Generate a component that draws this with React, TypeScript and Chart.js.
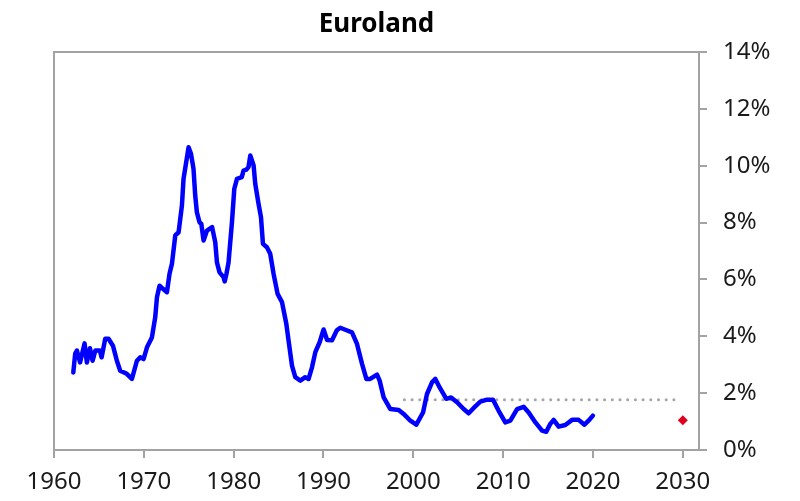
import React, { useEffect, useRef } from "react";
import { Chart, registerables } from "chart.js";

Chart.register(...registerables);

const TITLE = "Euroland";

const years = [
  1962.15, 1962.36, 1962.55, 1962.9, 1963.4, 1963.66, 1964.0, 1964.3, 1964.6, 1965.1,
  1965.3, 1965.7, 1966.07, 1966.56, 1967.0, 1967.37, 1968.1, 1968.67, 1969.23, 1969.6,
  1969.97, 1970.35, 1970.9, 1971.27, 1971.46, 1971.75, 1972.13, 1972.57, 1972.86, 1973.13,
  1973.5, 1973.87, 1974.24, 1974.42, 1974.69, 1974.98, 1975.25, 1975.53, 1975.72, 1975.9,
  1976.2, 1976.4, 1976.65, 1977.03, 1977.6, 1977.95, 1978.14, 1978.43, 1978.87, 1979.0,
  1979.2, 1979.43, 1979.81, 1980.07, 1980.37, 1980.9, 1981.1, 1981.4, 1981.65, 1981.85,
  1982.22, 1982.4, 1982.77, 1983.04, 1983.26, 1983.7, 1984.07, 1984.44, 1984.89, 1985.38,
  1985.86, 1986.11, 1986.49, 1986.86, 1987.42, 1987.97, 1988.34, 1988.72, 1989.09, 1989.57,
  1990.01, 1990.4, 1990.95, 1991.5, 1991.87, 1992.43, 1993.17, 1993.73, 1994.29, 1994.77,
  1995.2, 1995.96, 1996.25, 1996.7, 1997.44, 1998.37, 1998.92, 1999.67, 2000.33, 2001.08,
  2001.52, 2002.08, 2002.45, 2002.93, 2003.67, 2004.2, 2004.87, 2005.6, 2006.16, 2006.72,
  2007.46, 2008.2, 2008.87, 2009.5, 2010.24, 2010.8, 2011.55, 2012.28, 2012.84, 2013.59,
  2014.33, 2014.8, 2015.25, 2015.62, 2016.18, 2016.92, 2017.67, 2018.4, 2019.05, 2019.5,
  2019.99,
];

const inflation = [
  2.73, 3.39, 3.5, 3.08, 3.75, 3.08, 3.58, 3.14, 3.5, 3.5,
  3.26, 3.91, 3.91, 3.67, 3.14, 2.79, 2.68, 2.5, 3.14, 3.26,
  3.2, 3.61, 3.96, 4.67, 5.37, 5.78, 5.67, 5.55, 6.2, 6.55,
  7.55, 7.66, 8.6, 9.54, 10.07, 10.65, 10.42, 9.89, 8.95, 8.37,
  8.01, 7.95, 7.37, 7.72, 7.84, 7.31, 6.6, 6.25, 6.08, 5.93,
  6.2, 6.6, 8.01, 9.19, 9.54, 9.6, 9.83, 9.86, 9.95, 10.36,
  10.01, 9.37, 8.66, 8.19, 7.25, 7.13, 6.9, 6.2, 5.49, 5.2,
  4.44, 3.85, 2.97, 2.56, 2.44, 2.56, 2.5, 2.91, 3.44, 3.79,
  4.24, 3.87, 3.86, 4.22, 4.3, 4.23, 4.14, 3.73, 3.03, 2.5,
  2.5, 2.65, 2.44, 1.85, 1.44, 1.41, 1.27, 1.03, 0.89, 1.32,
  1.97, 2.38, 2.5, 2.2, 1.8, 1.85, 1.68, 1.44, 1.29, 1.48,
  1.7, 1.77, 1.77, 1.38, 0.97, 1.03, 1.44, 1.52, 1.32, 0.97,
  0.68, 0.64, 0.92, 1.06, 0.82, 0.88, 1.06, 1.06, 0.89, 1.03,
  1.21,
];

const targetYears = [1999, 2029.6];
const targetValues = [1.77, 1.77];

const forecastYears = [2030];
const forecastValues = [1.05];

const xTickYears = [1960, 1970, 1980, 1990, 2000, 2010, 2020, 2030];
const yTickValues = [0, 2, 4, 6, 8, 10, 12, 14];

const AXIS_GREY = "#a3a3a3";
const FONT = "'Noto Sans', 'Open Sans', sans-serif";

const framePlugin = {
  id: "frameAndTitle",
  afterDraw(chart: any) {
    const { ctx, chartArea } = chart;
    ctx.save();
    ctx.strokeStyle = AXIS_GREY;
    ctx.lineWidth = 2;
    ctx.beginPath();
    ctx.moveTo(chartArea.left, chartArea.bottom);
    ctx.lineTo(chartArea.left, chartArea.top);
    ctx.lineTo(chartArea.right, chartArea.top);
    ctx.stroke();
    ctx.fillStyle = "#000";
    ctx.font = `bold 26px ${FONT}`;
    ctx.textAlign = "center";
    ctx.textBaseline = "alphabetic";
    ctx.fillText(TITLE, (chartArea.left + chartArea.right) / 2, 24);
    ctx.restore();
  },
};

export default function App() {
  const ref = useRef<HTMLCanvasElement | null>(null);

  useEffect(() => {
    if (!ref.current) return;
    const chart = new Chart(ref.current, {
      type: "line",
      data: {
        datasets: [
          {
            label: "Inflation",
            data: years.map((x, i) => ({ x, y: inflation[i] })),
            borderColor: "#0000ff",
            borderWidth: 4.5,
            pointRadius: 0,
            tension: 0,
            borderJoinStyle: "round",
            borderCapStyle: "round",
          },
          {
            label: "Target",
            data: targetYears.map((x, i) => ({ x, y: targetValues[i] })),
            borderColor: "#a6a6a6",
            borderWidth: 3,
            borderDash: [0.1, 7.6],
            borderCapStyle: "round",
            pointRadius: 0,
          },
          {
            label: "Forecast",
            data: forecastYears.map((x, i) => ({ x, y: forecastValues[i] })),
            showLine: false,
            pointStyle: "rectRot",
            pointRadius: 5,
            pointBackgroundColor: "#e0001b",
            pointBorderColor: "#e0001b",
            pointBorderWidth: 0,
          },
        ],
      },
      options: {
        animation: false,
        responsive: false,
        maintainAspectRatio: false,
        layout: { padding: { left: 46, top: 44, right: 0, bottom: 0 } },
        plugins: {
          legend: { display: false },
          tooltip: { enabled: false },
          title: { display: false },
        },
        scales: {
          x: {
            type: "linear",
            position: "bottom",
            min: 1960,
            max: 2031.8,
            afterFit: (s: any) => {
              s.height = 43;
            },
            afterBuildTicks: (s: any) => {
              s.ticks = xTickYears.map((v) => ({ value: v }));
            },
            ticks: {
              color: "#1a1a1a",
              font: { family: FONT, size: 24 },
              padding: 10,
              maxRotation: 0,
              autoSkip: false,
              callback: (v: any) => String(v),
            },
            grid: {
              drawOnChartArea: false,
              drawTicks: true,
              tickLength: 8,
              color: AXIS_GREY,
              lineWidth: 2,
            },
            border: { color: AXIS_GREY, width: 2 },
          },
          y: {
            type: "linear",
            position: "right",
            min: 0,
            max: 14,
            afterFit: (s: any) => {
              s.width = 93;
            },
            afterBuildTicks: (s: any) => {
              s.ticks = yTickValues.map((v) => ({ value: v }));
            },
            ticks: {
              color: "#1a1a1a",
              font: { family: FONT, size: 24 },
              padding: 16,
              callback: (v: any) => `${v}%`,
            },
            grid: {
              drawOnChartArea: false,
              drawTicks: true,
              tickLength: 8,
              color: AXIS_GREY,
              lineWidth: 2,
            },
            border: { color: AXIS_GREY, width: 2 },
          },
        },
      },
      plugins: [framePlugin],
    });
    return () => chart.destroy();
  }, []);

  return (
    <div style={{ width: 784, height: 485 }}>
      <canvas ref={ref} width={784} height={485} style={{ display: "block" }} />
    </div>
  );
}
